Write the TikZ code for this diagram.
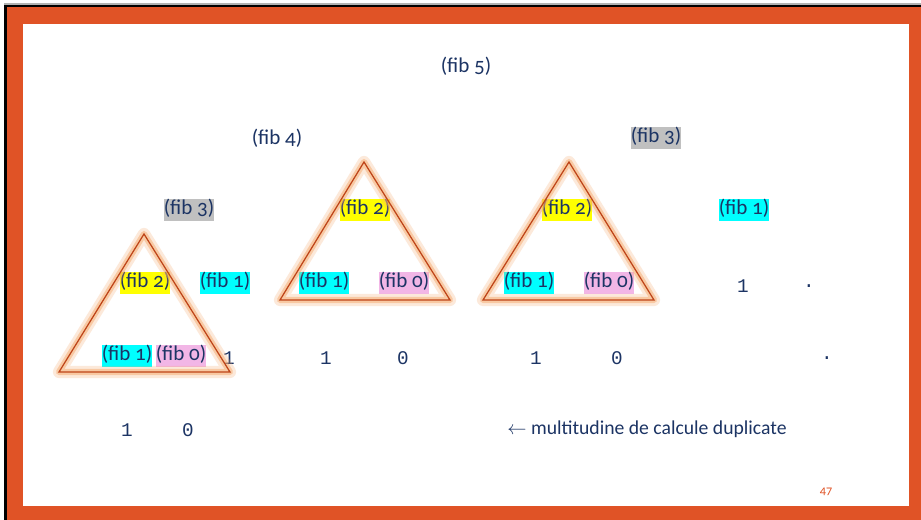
\documentclass[tikz,border=0pt]{standalone}
\usepackage{fontspec}
\setmainfont{Carlito}[Numbers=OldStyle]
\setmonofont{Liberation Mono}
\usepackage{xcolor}
\usetikzlibrary{positioning}

\definecolor{navy}{RGB}{28,52,100}
\definecolor{frameorange}{RGB}{224,83,38}
\definecolor{trirust}{RGB}{190,68,24}
\definecolor{glowor}{RGB}{246,170,110}
\definecolor{hlyellow}{RGB}{255,255,0}
\definecolor{hlcyan}{RGB}{0,255,255}
\definecolor{hlgray}{RGB}{192,192,192}
\definecolor{hlpink}{RGB}{242,182,230}

\begin{document}
\begin{tikzpicture}[
    x=0.02cm, y=-0.02cm,
    call/.style={
        inner xsep=0pt, inner ysep=1.4pt, text=navy,
        font=\fontsize{12}{14}\selectfont,
        text height=0.75em, text depth=0.25em
    },
    hlyel/.style={call, fill=hlyellow},
    hlcy/.style={call, fill=hlcyan},
    hlgr/.style={call, fill=hlgray},
    hlpk/.style={call, fill=hlpink},
    digit/.style={inner sep=0pt, text=navy, font=\ttfamily\fontsize{11}{13}\selectfont},
    glow/.style={line join=round, draw=glowor, line width=7pt, opacity=0.25},
    glowin/.style={line join=round, draw=glowor, line width=3.5pt, opacity=0.5},
    triline/.style={line join=miter, draw=trirust, line width=0.7pt}
]
\useasboundingbox (0,0) rectangle (921,520);

% slide frame
\fill[gray!60] (4,3) rectangle (921,5);
\fill[black] (4,5) rectangle (921,520);
\fill[frameorange] (7,7) rectangle (921,520);
\fill[white] (23,24) rectangle (909,506);

% call tree, level by level
\node[call] (fibfive) at (466,68) {(fib 5)};

\node[call] (fibfour) at (277,140) {(fib 4)};
\node[hlgr] (fibthreeR) at (656,138) {(fib 3)};

\node[hlgr] (fibthreeL) at (189,210) {(fib 3)};
\node[hlyel] (fibtwoM) at (365,210) {(fib 2)};
\node[hlyel] (fibtwoR) at (567,210) {(fib 2)};
\node[hlcy] (fiboneR) at (744,210) {(fib 1)};

\node[hlyel] (fibtwoL) at (145,283) {(fib 2)};
\node[hlcy] (fiboneL) at (225,283) {(fib 1)};
\node[hlcy] (fiboneM) at (324,283) {(fib 1)};
\node[hlpk] (fibzeroM) at (404,283) {(fib 0)};
\node[hlcy] (fiboneRR) at (529,283) {(fib 1)};
\node[hlpk] (fibzeroR) at (609,283) {(fib 0)};
\node[digit] (oneA) at (743,286) {1};
\node[digit] (dotA) at (809,286) {.};

\node[hlcy] (fiboneLL) at (127,356) {(fib 1)};
\node[hlpk] (fibzeroL) at (181,356) {(fib 0)};
\node[digit] (oneB) at (229,358) {1};
\node[digit] (oneC) at (326,358) {1};
\node[digit] (zeroC) at (403,358) {0};
\node[digit] (oneD) at (536,358) {1};
\node[digit] (zeroD) at (617,358) {0};
\node[digit] (dotB) at (827,358) {.};

\node[digit] (oneE) at (127,430) {1};
\node[digit] (zeroE) at (188,430) {0};

\node[call, anchor=west, font=\fontsize{11.2}{13}\selectfont] (note) at (507,430) {$\leftarrow$ multitudine de calcule duplicate};

\node[text=frameorange, font=\fontsize{7}{8}\selectfont] (pagenum) at (826,492) {47};

% triangles marking the repeated subtrees
\coordinate (triAtop) at (144,234);
\coordinate (triAleft) at (59,372);
\coordinate (triAright) at (230,372);
\coordinate (triBtop) at (364,162);
\coordinate (triBleft) at (280,300);
\coordinate (triBright) at (450,300);
\coordinate (triCtop) at (569,162);
\coordinate (triCleft) at (483,300);
\coordinate (triCright) at (654,300);

\foreach \t in {A,B,C} {
    \draw[glow] (tri\t top) -- (tri\t left) -- (tri\t right) -- cycle;
    \draw[glowin] (tri\t top) -- (tri\t left) -- (tri\t right) -- cycle;
    \draw[triline] (tri\t top) -- (tri\t left) -- (tri\t right) -- cycle;
}
\end{tikzpicture}
\end{document}
